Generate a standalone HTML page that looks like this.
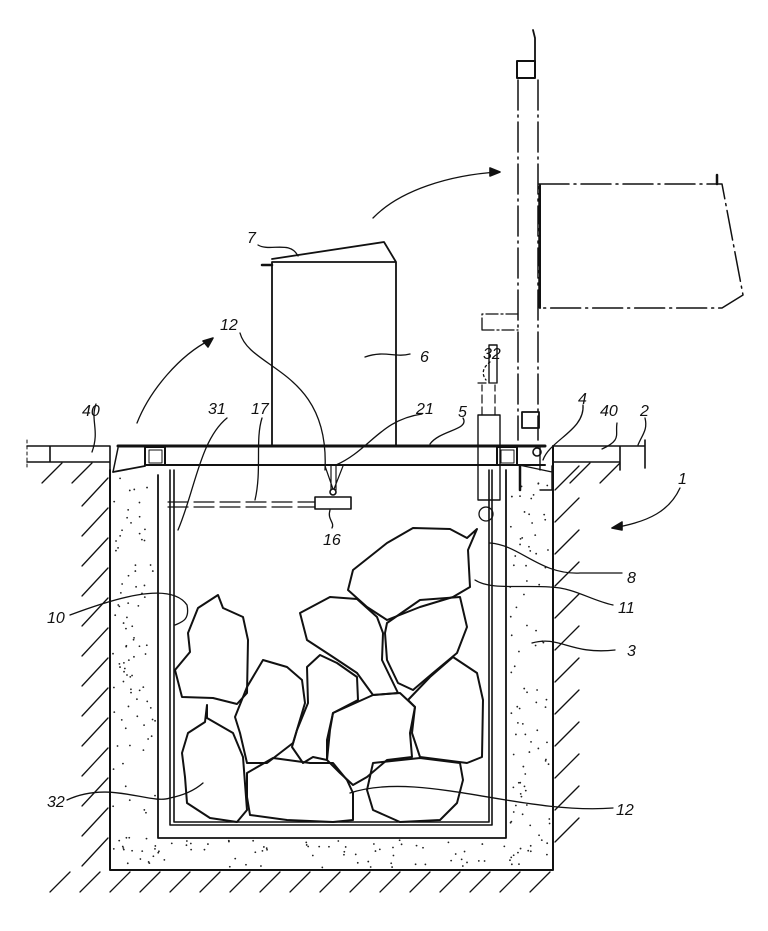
<!DOCTYPE html>
<html><head><meta charset="utf-8"><style>
html,body{margin:0;padding:0;background:#fff;width:768px;height:931px;overflow:hidden}
svg text{font-family:"Liberation Sans",sans-serif;font-style:italic;font-size:16px;fill:#111;stroke:none}
</style></head><body>
<svg id="s" width="768" height="931" viewBox="0 0 768 931" xmlns="http://www.w3.org/2000/svg" fill="none" stroke="#111" stroke-width="1.6" stroke-linejoin="round" stroke-linecap="round">
<g id="hatch" stroke-width="1.3"></g>
<g id="dots" fill="#222" stroke="none"></g>
<path d="M27 446H110V470M27 462H110M50 446V462" />
<path d="M27 440V468" stroke-dasharray="3 3" stroke-width="1"/>
<path d="M553 446H645M553 462H620M620 446V462M620 462V470M645 440V468" />
<path d="M553 446V870H110V470" stroke-width="2"/>
<path d="M158 475V838H506V470" stroke-width="1.8"/>
<path d="M118 446H545" stroke-width="3"/>
<path d="M145 465H545" stroke-width="2"/>
<path d="M113 472L145 466" stroke-width="1.8"/>
<path d="M118 448L113 472" stroke-width="1.5"/>
<rect x="145" y="447" width="20" height="18" stroke-width="2"/>
<rect x="149" y="450" width="13" height="13" stroke-width="1"/>
<rect x="497" y="447" width="20" height="18" stroke-width="2"/>
<rect x="501" y="450" width="13" height="13" stroke-width="1"/>
<path d="M519 465L552 472M540 448 V470 M552 466V490H540" stroke-width="1.4"/>
<circle cx="537" cy="452" r="4" stroke-width="1.6"/>
<path d="M520 466V490" stroke-width="2.5"/>
<path d="M170 470V825H492V470M174 470V822H489V470" stroke-width="1.6"/>
<path d="M272 446V262H396V446M272 259L384 242L396 262" stroke-width="1.8"/>
<path d="M262 265H272" stroke-width="2.5"/>
<path d="M168 502H315M168 507H315" stroke-dasharray="20 6" stroke-width="1.2"/>
<rect x="315" y="497" width="36" height="12" stroke-width="1.6"/>
<path d="M325 466L333 489M343 466L334 489M331 466V490M336 466V490" stroke-width="1.2"/>
<circle cx="333" cy="492" r="3"/>
<path d="M478 415H500V500H478Z" stroke-width="1.4"/>
<path d="M482 415V385M495 415V385M478 383H496" stroke-dasharray="8 4" stroke-width="1.2"/>
<path d="M489 383V345H497V383" stroke-width="1.4"/>
<circle cx="486" cy="514" r="7" stroke-width="1.3"/>
<path d="M482 330V314H518M482 330H518" stroke-dasharray="12 3 2 3" stroke-width="1.3"/>
<path d="M518 80V440M538 80V440" stroke-dasharray="30 5 2 5" stroke-width="1.5"/>
<rect x="517" y="61" width="18" height="17" stroke-width="2"/>
<path d="M535 61V38L533 30" stroke-width="1.8"/>
<rect x="522" y="412" width="17" height="16" stroke-width="1.8"/>
<path d="M539 184H722L743 295L722 308H539Z" stroke-dasharray="30 5 2 5" stroke-width="1.5"/>
<path d="M540 185V308" stroke-width="2"/>
<path d="M717 175V184" stroke-width="2.5"/>
<g stroke-width="2">
<path d="M218 595L223 608 243 617 248 640 247 693 237 704 213 698 182 697 175 670 190 652 188 633 198 608Z"/>
<path d="M477 529L467 538 450 529 413 528 387 543 353 570 348 590 367 607 387 620 420 607 453 597 470 587 468 550Z"/>
<path d="M300 613L330 597 357 599 377 617 383 633 382 660 398 693 373 695 357 673 333 657 307 640Z"/>
<path d="M387 623L420 600 460 597 467 627 457 653 433 673 413 690 398 683 387 660 385 633Z"/>
<path d="M453 657L477 673 483 700 482 757 467 763 420 757 412 733 415 707 408 700 430 677Z"/>
<path d="M263 660L287 667 302 680 305 703 293 743 267 763 247 763 240 733 235 717 247 687Z"/>
<path d="M320 655L337 663 357 677 358 700 333 713 327 740 327 760 313 757 303 763 292 747 297 730 308 703 307 667Z"/>
<path d="M333 713L373 695 400 693 415 707 410 733 412 757 387 760 367 777 353 785 340 773 327 760 330 730Z"/>
<path d="M207 705L207 718 233 733 243 757 247 810 237 822 210 818 187 803 185 777 182 753 188 733 205 722Z"/>
<path d="M247 773L273 758 310 763 333 763 347 780 353 793 353 820 333 822 287 820 250 815 247 797Z"/>
<path d="M373 763L420 758 460 763 463 780 457 803 440 820 400 822 373 810 367 790Z"/>
</g>
<g stroke-width="1.3">
<path d="M258 245C270 252 290 240 298 256"/>
<path d="M240 333C250 370 330 370 325 470"/>
<path d="M365 357C385 350 395 358 410 354"/>
<path d="M490 362C485 366 480 372 486 380" stroke-dasharray="2 3"/>
<path d="M227 418C200 440 195 490 178 530"/>
<path d="M262 418C255 440 262 470 255 500"/>
<path d="M422 414C380 420 370 450 336 465"/>
<path d="M463 418C470 430 440 430 430 444"/>
<path d="M583 405C585 430 550 440 543 460"/>
<path d="M617 423C615 435 622 440 602 449"/>
<path d="M645 418C648 430 642 435 638 445"/>
<path d="M96 404C90 420 100 430 92 452"/>
<path d="M680 488C670 510 650 522 612 528"/>
<path d="M330 510C327 520 335 522 332 528"/>
<path d="M490 543C520 545 540 575 580 573H622"/>
<path d="M475 580C490 590 520 585 550 587C575 588 590 600 613 605"/>
<path d="M70 615C110 600 170 580 187 605C190 620 182 622 175 625"/>
<path d="M532 643C560 635 570 655 615 650"/>
<path d="M67 800C110 780 150 805 170 798C185 795 195 790 203 783"/>
<path d="M350 793C420 770 520 815 613 808"/>
</g>
<path d="M137 423C150 390 180 355 210 340" stroke-width="1.3"/>
<path d="M213 338L203 341L208 347Z" fill="#111"/>
<path d="M373 218C400 190 450 175 498 172" stroke-width="1.3"/>
<path d="M500 172L490 168L490 176Z" fill="#111"/>
<path d="M612 528L622 522L622 530Z" fill="#111"/>
<text x="247" y="243">7</text>
<text x="220" y="330">12</text>
<text x="420" y="362">6</text>
<text x="483" y="359">32</text>
<text x="208" y="414">31</text>
<text x="251" y="414">17</text>
<text x="416" y="414">21</text>
<text x="458" y="417">5</text>
<text x="578" y="404">4</text>
<text x="600" y="416">40</text>
<text x="640" y="416">2</text>
<text x="82" y="416">40</text>
<text x="678" y="484">1</text>
<text x="323" y="545">16</text>
<text x="627" y="583">8</text>
<text x="618" y="613">11</text>
<text x="47" y="623">10</text>
<text x="627" y="656">3</text>
<text x="47" y="807">32</text>
<text x="616" y="815">12</text>
</svg>
<script>
var h=document.getElementById('hatch'),d=document.getElementById('dots'),ns='http://www.w3.org/2000/svg';
function L(a,b,c,e){var l=document.createElementNS(ns,'line');l.setAttribute('x1',a);l.setAttribute('y1',b);l.setAttribute('x2',c);l.setAttribute('y2',e);h.appendChild(l);}
for(var y=478;y<860;y+=30)L(108,y,82,y+28);
L(62,463,42,483);L(92,463,72,483);
for(var x=70;x<580;x+=30)L(x,872,x-20,892);
for(var y=490;y<870;y+=32)L(555,y,579,y-24);
L(590,463,570,483);L(620,463,600,483);
var s=7;function r(){s=(s*9301+49297)%233280;return s/233280;}
function dot(x,y){var c=document.createElementNS(ns,'circle');c.setAttribute('cx',x);c.setAttribute('cy',y);c.setAttribute('r',0.9);d.appendChild(c);}
for(var i=0;i<260;i++){var t=r(),x,y;if(t<0.35){x=113+r()*43;y=478+r()*390;}else if(t<0.7){x=508+r()*43;y=478+r()*390;}else{x=113+r()*438;y=840+r()*28;}dot(x,y);}
</script>
</body></html>
